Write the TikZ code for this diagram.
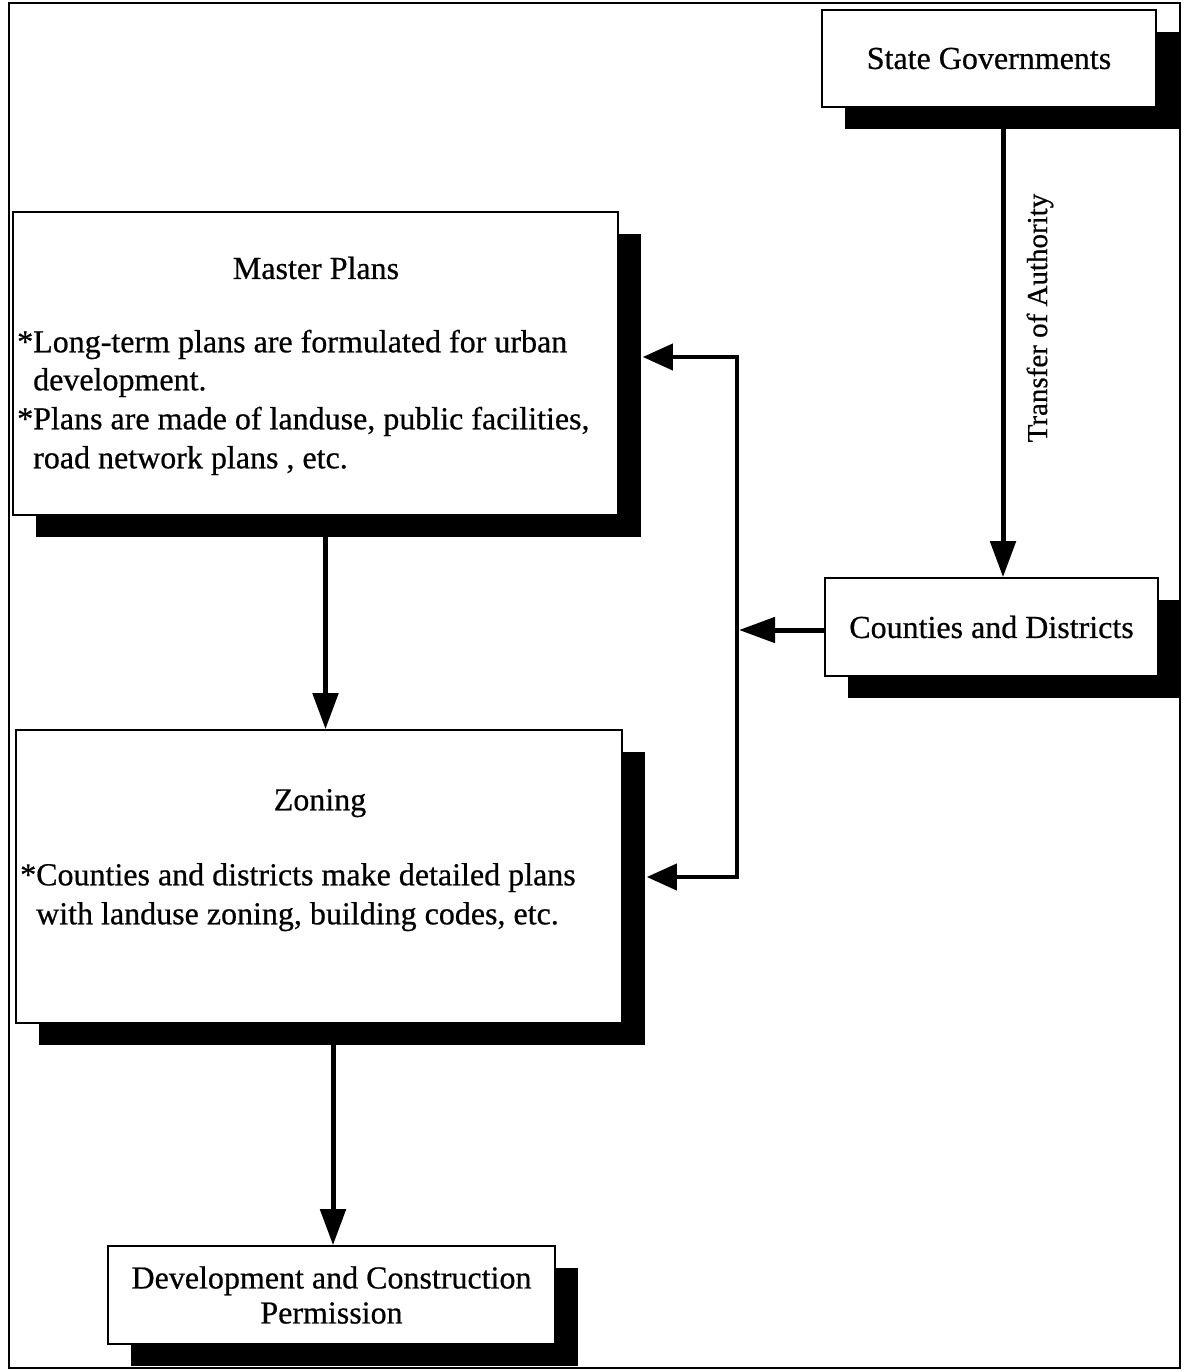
\documentclass[tikz,border=0pt]{standalone}
\usepackage{fontspec}
\setmainfont{Liberation Serif}[FakeBold=0.6]
\usetikzlibrary{arrows.meta,shadows,calc}

\begin{document}
\begin{tikzpicture}[x=1pt,y=-1pt,
  box/.style={draw=black,line width=1.6pt,fill=white,inner sep=0pt,
    align=center,font=\fontsize{32}{35}\selectfont,
    drop shadow={shadow xshift=23pt,shadow yshift=-22pt,fill=black,opacity=1}},
  txt/.style={inner sep=0pt,font=\fontsize{32}{38}\selectfont},
  lbl/.style={inner sep=0pt,font=\fontsize{29}{34}\selectfont},
  mainarrow/.style={line width=5pt,-{Triangle[length=36pt,width=25pt]}},
  busline/.style={line width=4pt},
  busarrow/.style={line width=4pt,-{Triangle[length=30pt,width=26pt]}}]

% page and frame
\useasboundingbox (0,0) rectangle (1184,1372);
\draw[line width=1.3pt] (9,3) rectangle (1180,1368);

% boxes
\node[box,minimum width=334pt,minimum height=97pt] (sg) at (989,58.5) {State Governments};
\node[box,minimum width=605pt,minimum height=303pt] (mp) at (315.5,363.5) {};
\node[box,minimum width=606pt,minimum height=293pt] (zn) at (319,876.5) {};
\node[box,minimum width=333pt,minimum height=98pt] (cd) at (991.5,627) {Counties and Districts};
\node[box,minimum width=447pt,minimum height=98pt] (dp) at (331.5,1295) {Development and Construction\\Permission};

% texts of the master plans box
\node[txt] (mpt) at (316,268) {Master Plans};
\node[txt,anchor=mid west] (mp1) at (17,350) {*Long-term plans are formulated for urban};
\node[txt,anchor=mid west] (mp2) at (17,388) {\phantom{*}development.};
\node[txt,anchor=mid west] (mp3) at (17,427) {*Plans are made of landuse, public facilities,};
\node[txt,anchor=mid west] (mp4) at (17,466) {\phantom{*}road network plans , etc.};

% texts of the zoning box
\node[txt,anchor=mid] (znt) at (320,808) {Zoning};
\node[txt,anchor=mid west] (zn1) at (20,883) {*Counties and districts make detailed plans};
\node[txt,anchor=mid west] (zn2) at (20,922) {\phantom{*}with landuse zoning, building codes, etc.};

% transfer of authority
\coordinate (sgout) at ($(sg.south)+(14,0)$);
\draw[mainarrow] (sgout) -- (sgout |- cd.north);
\node[lbl,rotate=90] (toa) at (1040,318) {Transfer of Authority};

% master plans -> zoning -> permission
\coordinate (mpout) at ($(mp.south)+(10,0)$);
\draw[mainarrow] (mpout) -- (mpout |- zn.north);
\coordinate (znout) at ($(zn.south)+(14,0)$);
\draw[mainarrow] (znout) -- (znout |- dp.north);

% counties and districts feed both plans
\coordinate (busN) at (737,357);
\coordinate (busS) at (737,877);
\coordinate (mpin) at ($(mp.east |- busN)+(24,0)$);
\coordinate (znin) at ($(zn.east |- busS)+(24,0)$);
\draw[busline,line cap=rect] (busN) -- (busS);
\draw[busarrow] (busN) -- (mpin);
\draw[busarrow] (busS) -- (znin);
\draw[mainarrow] ($(cd.west)+(0,3)$) -- ($(cd.west -| busN)+(2,3)$);

\end{tikzpicture}
\end{document}
